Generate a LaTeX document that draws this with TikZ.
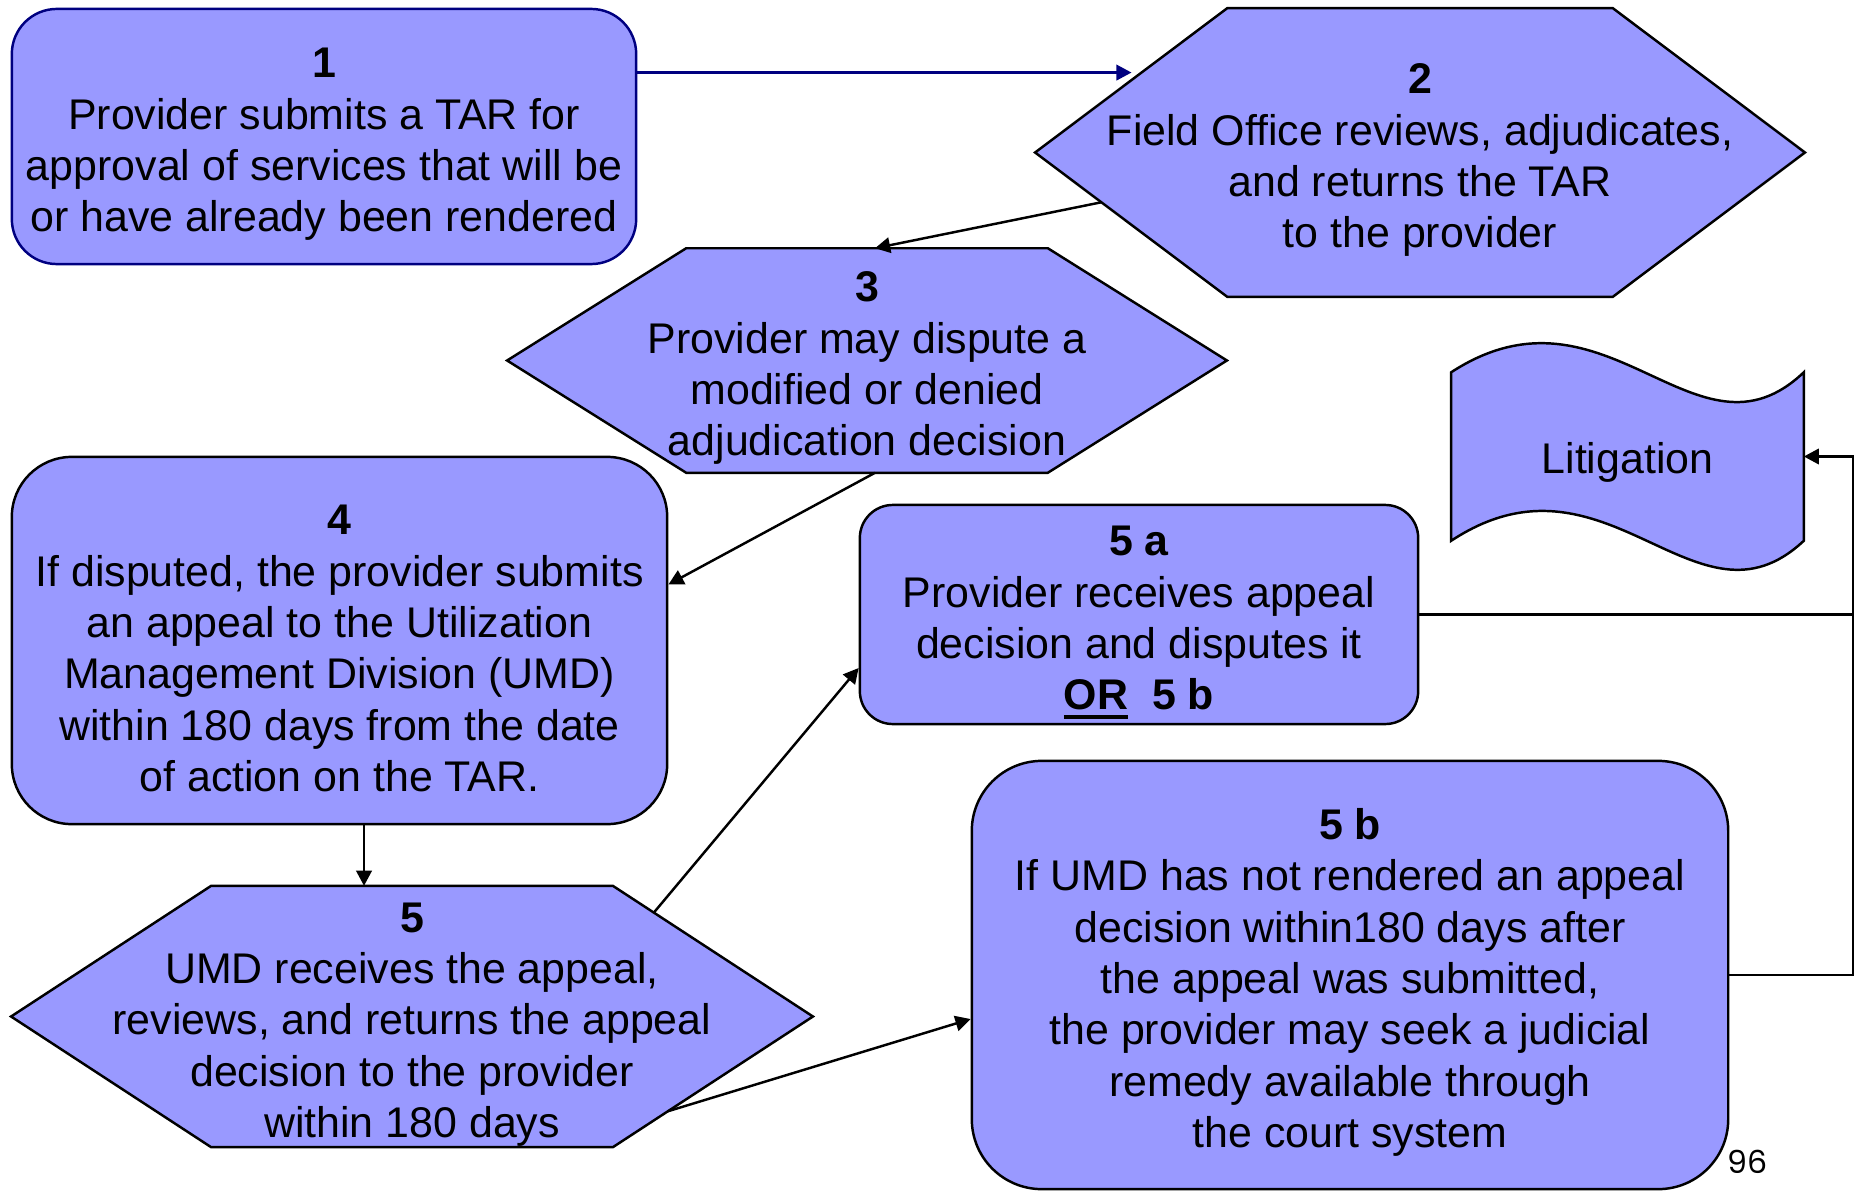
\documentclass[tikz,border=0pt]{standalone}
\usepackage{fontspec}
\setmainfont{Liberation Sans}
\newfontfamily\pagenumfont{Poppins}
\usepackage{xcolor}
\usetikzlibrary{arrows.meta, positioning, calc, backgrounds}

\definecolor{stepfill}{HTML}{9999FF}
\definecolor{tarnavy}{HTML}{000080}

\newcommand{\thickul}[1]{\setbox0=\hbox{#1}\rlap{\rule[-2.6pt]{\wd0}{1.1pt}}\box0}
\newcommand{\toppad}{\rule{0pt}{13pt}}

\begin{document}
\begin{tikzpicture}[
  x=0.01cm, y=-0.01cm,
  txt/.style={align=center, inner sep=0pt, font=\fontsize{12.2}{14.6}\selectfont},
  box/.style={txt, draw, fill=stepfill, rectangle, line width=0.7pt},
  hexa/.style={txt, rectangle},
  outline/.style={draw, fill=stepfill, line width=0.7pt},
  arr/.style={-{Triangle[length=4.3pt, width=4.4pt]}, line width=0.7pt},
  link/.style={line width=0.7pt}
]
\useasboundingbox (0,0) rectangle (1858,1191);

% rounded boxes
\node[box, draw=tarnavy, rounded corners=0.45cm, minimum width=6.24cm, minimum height=2.55cm] (n1) at (324,136.5)
  {\toppad\textbf{1}\\Provider submits a TAR for\\approval of services that will be\\or have already been rendered};
\node[box, rounded corners=0.6cm, minimum width=6.55cm, minimum height=3.67cm] (n4) at (339.5,640.5)
  {\toppad\textbf{4}\\If disputed, the provider submits\\an appeal to the Utilization\\Management Division (UMD)\\within 180 days from the date\\of action on the TAR.};
\node[box, rounded corners=0.33cm, minimum width=5.58cm, minimum height=2.19cm] (n5a) at (1139,614.5)
  {\toppad\textbf{5 a}\\Provider receives appeal\\decision and disputes it\\\thickul{\textbf{OR}}\ \ \textbf{5 b}};
\node[box, rounded corners=0.7cm, minimum width=7.56cm, minimum height=4.28cm] (n5b) at (1350,975)
  {\toppad\textbf{5 b}\\If UMD has not rendered an appeal\\decision within180 days after\\the appeal was submitted,\\the provider may seek a judicial\\remedy available through\\the court system};

% hexagons: text here, outline on the background layer
\node[hexa, minimum width=7.68cm, minimum height=2.87cm] (n2) at (1420,152.5)
  {\toppad\textbf{2}\\Field Office reviews, adjudicates,\\and returns the TAR\\to the provider};
\node[hexa, minimum width=7.18cm, minimum height=2.23cm] (n3) at (867,360.5)
  {\toppad\textbf{3}\\Provider may dispute a\\modified or denied\\adjudication decision};
\node[hexa, minimum width=8cm, minimum height=2.55cm] (n5) at (412,1016.5)
  {\toppad\textbf{5}\\UMD receives the appeal,\\reviews, and returns the appeal\\decision to the provider\\within 180 days};
\node[hexa, minimum width=3.51cm, minimum height=1.67cm] (lit) at (1627.5,456.5) {\rule{0pt}{12.3pt}Litigation};

\node[font=\pagenumfont\fontsize{9}{10}\selectfont, anchor=base west, inner sep=0pt] (pagenum) at (1727,1173) {96};

\coordinate (n2tl) at ([xshift=1.92cm]n2.north west);
\coordinate (n2tr) at ([xshift=-1.92cm]n2.north east);
\coordinate (n2bl) at ([xshift=1.92cm]n2.south west);
\coordinate (n2br) at ([xshift=-1.92cm]n2.south east);
\coordinate (n3tl) at ([xshift=1.79cm]n3.north west);
\coordinate (n3tr) at ([xshift=-1.79cm]n3.north east);
\coordinate (n3bl) at ([xshift=1.79cm]n3.south west);
\coordinate (n3br) at ([xshift=-1.79cm]n3.south east);
\coordinate (n5tl) at ([xshift=2cm]n5.north west);
\coordinate (n5tr) at ([xshift=-2cm]n5.north east);
\coordinate (n5bl) at ([xshift=2cm]n5.south west);
\coordinate (n5br) at ([xshift=-2cm]n5.south east);

\begin{scope}[on background layer]
  \draw[outline] (n2.west) -- (n2tl) -- (n2tr) -- (n2.east) -- (n2br) -- (n2bl) -- cycle;
  \draw[outline] (n3.west) -- (n3tl) -- (n3tr) -- (n3.east) -- (n3br) -- (n3bl) -- cycle;
  \draw[outline] (n5.west) -- (n5tl) -- (n5tr) -- (n5.east) -- (n5br) -- (n5bl) -- cycle;
  \draw[outline] (lit.north west) .. controls (1607,271) and (1696,475) .. (lit.north east)
    -- (lit.south east) .. controls (1696,642) and (1607,438) .. (lit.south west) -- cycle;
\end{scope}

% connectors
\coordinate (in2) at ($(n2.west)!0.554!(n2tl)$);
\coordinate (out2) at ($(n2.west)!0.345!(n2bl)$);
\coordinate (out5a) at ($(n5tr)!0.205!(n5.east)$);
\coordinate (out5b) at ($(n5.east)!0.725!(n5br)$);
\coordinate (bus) at ([xshift=0.49cm]lit.east);

\draw[arr, draw=tarnavy, fill=tarnavy, shorten >=0.1cm] (n1.east |- in2) -- (in2);
\draw[arr] (out2) -- ([xshift=0.08cm]n3.north);
\draw[arr] ([xshift=0.08cm]n3.south) -- ([yshift=0.56cm]n4.east);
\draw[arr] ([xshift=0.245cm]n4.south) -- ([xshift=0.245cm]n4.south |- n5.north);
\draw[arr] (out5a) -- ([yshift=-0.535cm]n5a.west);
\draw[arr] (out5b) -- ([yshift=-0.44cm]n5b.west);
\draw[link] (n5a.east) -- (n5a.east -| bus);
\draw[arr] (n5b.east) -| (bus) -- (lit.east);
\end{tikzpicture}
\end{document}
